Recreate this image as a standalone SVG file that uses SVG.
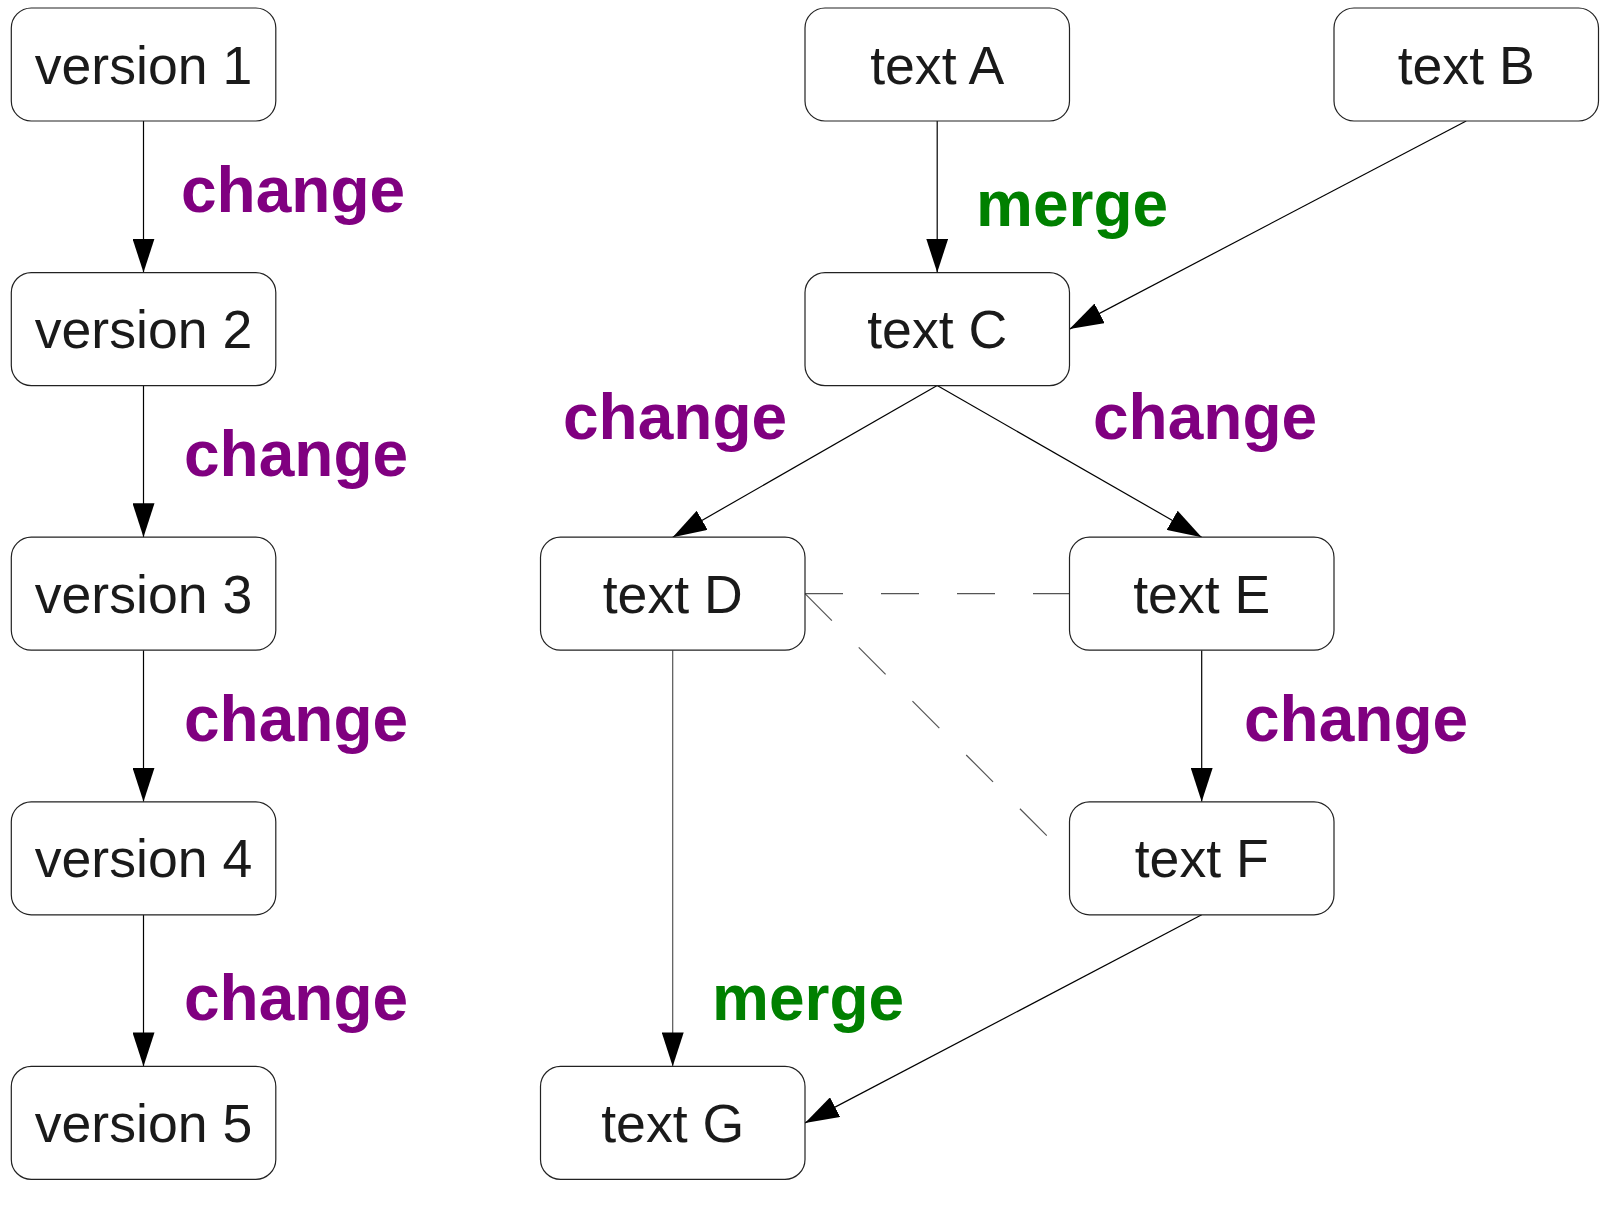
<svg xmlns="http://www.w3.org/2000/svg" width="1600" height="1218" viewBox="0 0 1600 1218">
<defs>
<marker id="arr" viewBox="0 0 34 22" refX="34" refY="11" markerWidth="34" markerHeight="22" orient="auto" markerUnits="userSpaceOnUse">
<path d="M0,0 L34,11 L0,22 Z" fill="#000"/>
</marker>
<style>
.box{fill:#fff;stroke:#222;stroke-width:1.2}
.t{font-family:"Liberation Sans",Arial,sans-serif;font-size:53.6px;fill:#1a1a1a;text-anchor:middle}
.lbl{font-family:"Liberation Sans",Arial,sans-serif;font-size:64px;font-weight:bold}
.chg{fill:#800080}
.mrg{fill:#008000}
.e{stroke:#000;stroke-width:1.2;fill:none;marker-end:url(#arr)}
.d{stroke:#555;stroke-width:1.2;fill:none;stroke-dasharray:38 38}
</style>
</defs>
<rect width="1600" height="1218" fill="#fff"/>
<g id="connectors">
<line class="e" x1="143.5" y1="121" x2="143.5" y2="272.6"/>
<line class="e" x1="143.5" y1="385.6" x2="143.5" y2="537.2"/>
<line class="e" x1="143.5" y1="650.2" x2="143.5" y2="801.8"/>
<line class="e" x1="143.5" y1="914.8" x2="143.5" y2="1066.4"/>
<line class="e" x1="937.2" y1="121" x2="937.2" y2="272.6"/>
<line class="e" x1="1466.2" y1="121" x2="1069.5" y2="329.1"/>
<line class="e" x1="937.2" y1="385.6" x2="672.7" y2="537.2"/>
<line class="e" x1="937.2" y1="385.6" x2="1201.7" y2="537.2"/>
<line class="e" x1="1201.7" y1="650.2" x2="1201.7" y2="801.8"/>
<line class="e" x1="672.7" y1="650.2" x2="672.7" y2="1066.4" style="stroke:#555"/>
<line class="e" x1="1201.7" y1="914.8" x2="805" y2="1122.9"/>
<line class="d" x1="805" y1="593.7" x2="1069.5" y2="593.7"/>
<line class="d" x1="805" y1="593.7" x2="1069.5" y2="858.3"/>
</g>
<g id="labels">
<text class="lbl chg" x="181" y="211.7">change</text>
<text class="lbl chg" x="184" y="476">change</text>
<text class="lbl chg" x="184" y="740.7">change</text>
<text class="lbl chg" x="184" y="1020">change</text>
<text class="lbl mrg" x="976" y="226">merge</text>
<text class="lbl chg" x="563" y="439">change</text>
<text class="lbl chg" x="1093" y="439">change</text>
<text class="lbl chg" x="1244" y="740.7">change</text>
<text class="lbl mrg" x="712" y="1020">merge</text>
</g>
<g id="v1"><rect class="box" x="11.3" y="8" width="264.5" height="113" rx="20"/><text class="t" x="143.5" y="83.5">version 1</text></g>
<g id="v2"><rect class="box" x="11.3" y="272.6" width="264.5" height="113" rx="20"/><text class="t" x="143.5" y="348.1">version 2</text></g>
<g id="v3"><rect class="box" x="11.3" y="537.2" width="264.5" height="113" rx="20"/><text class="t" x="143.5" y="612.7">version 3</text></g>
<g id="v4"><rect class="box" x="11.3" y="801.8" width="264.5" height="113" rx="20"/><text class="t" x="143.5" y="877.3">version 4</text></g>
<g id="v5"><rect class="box" x="11.3" y="1066.4" width="264.5" height="113" rx="20"/><text class="t" x="143.5" y="1141.9">version 5</text></g>
<g id="tA"><rect class="box" x="805" y="8" width="264.5" height="113" rx="20"/><text class="t" x="937.2" y="83.5">text A</text></g>
<g id="tB"><rect class="box" x="1334" y="8" width="264.5" height="113" rx="20"/><text class="t" x="1466.2" y="83.5">text B</text></g>
<g id="tC"><rect class="box" x="805" y="272.6" width="264.5" height="113" rx="20"/><text class="t" x="937.2" y="348.1">text C</text></g>
<g id="tD"><rect class="box" x="540.5" y="537.2" width="264.5" height="113" rx="20"/><text class="t" x="672.7" y="612.7">text D</text></g>
<g id="tE"><rect class="box" x="1069.5" y="537.2" width="264.5" height="113" rx="20"/><text class="t" x="1201.7" y="612.7">text E</text></g>
<g id="tF"><rect class="box" x="1069.5" y="801.8" width="264.5" height="113" rx="20"/><text class="t" x="1201.7" y="877.3">text F</text></g>
<g id="tG"><rect class="box" x="540.5" y="1066.4" width="264.5" height="113" rx="20"/><text class="t" x="672.7" y="1141.9">text G</text></g>
</svg>
